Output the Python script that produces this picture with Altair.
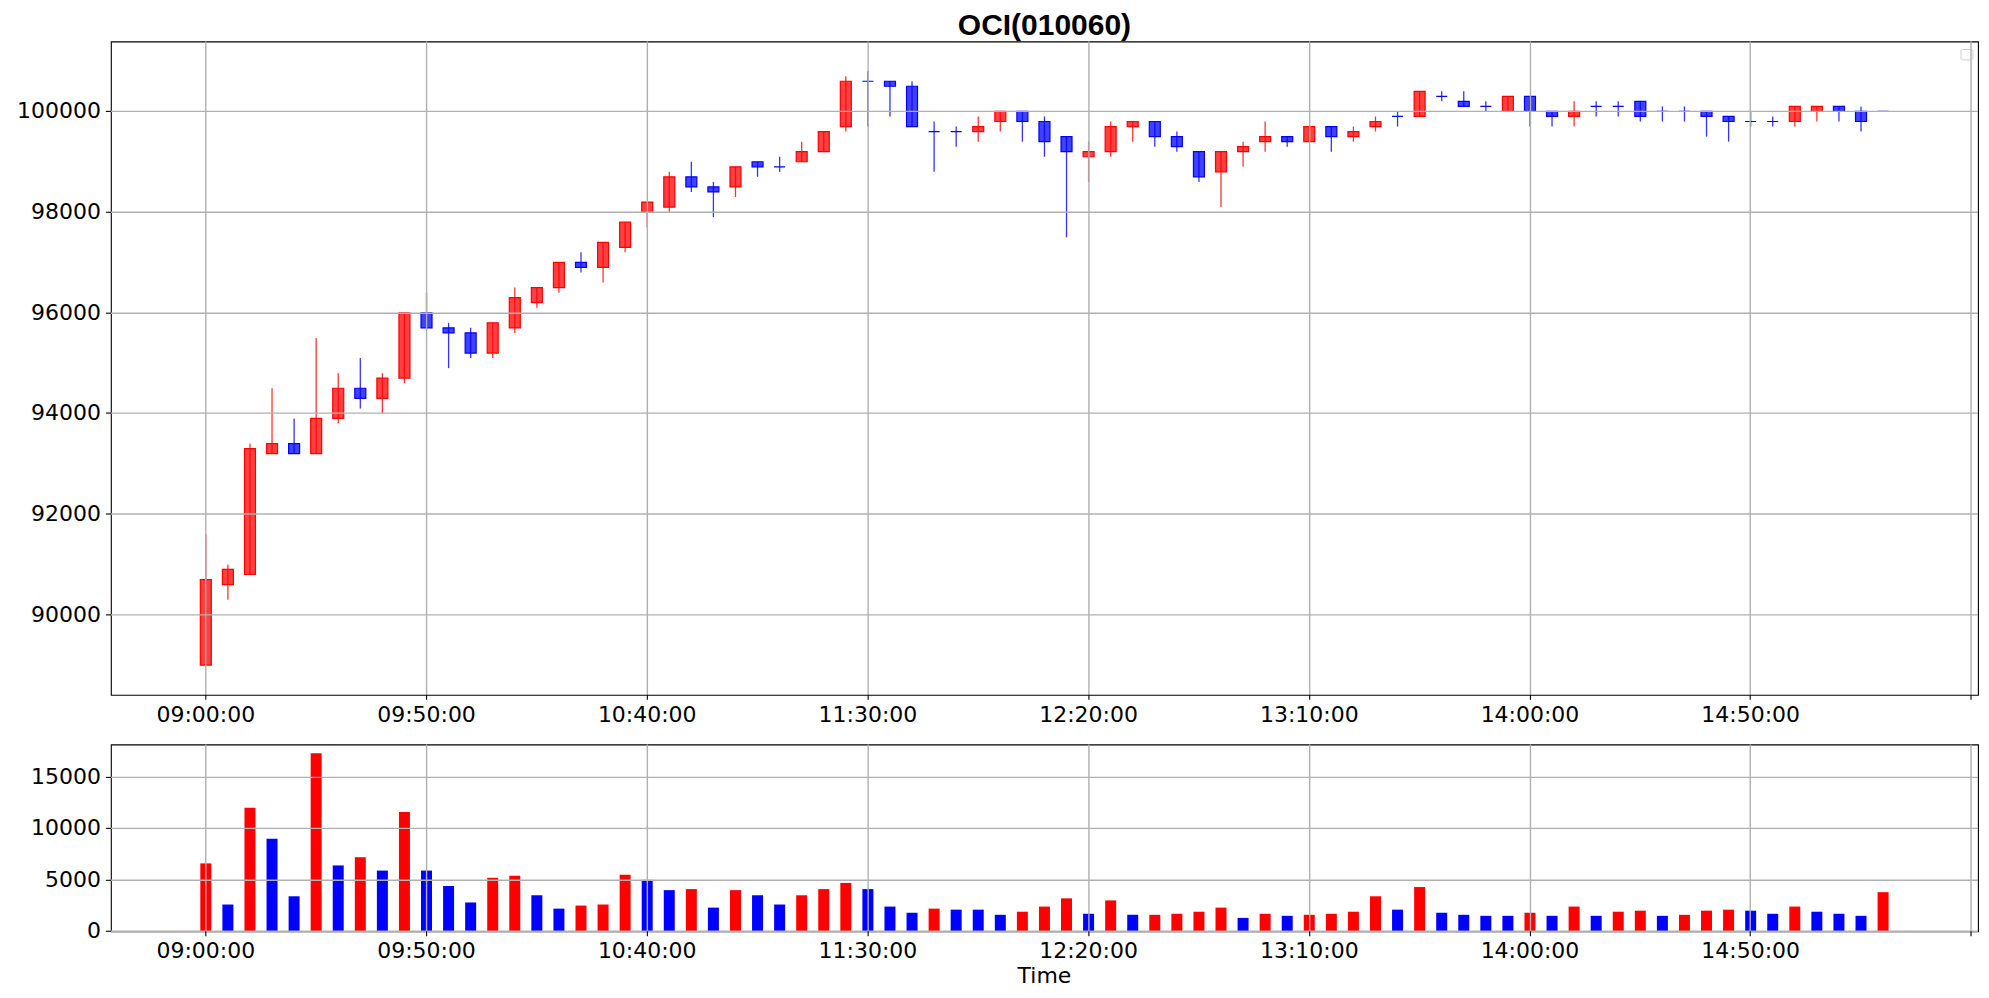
import altair as alt
import numpy as np
import pandas as pd


# 5 minute candles, 09:00 -> 15:20
opens = [89000, 90600, 90800, 93200, 93400, 93200, 93900, 94500, 94300, 94700,
         96000, 95700, 95600, 95200, 95700, 96200, 96500, 97000, 96900, 97300,
         98000, 98100, 98700, 98500, 98500, 99000, 98900, 99000, 99200, 99700,
         100600, 100600, 100500, 99600, 99600, 99600, 99800, 100000, 99800, 99500,
         99100, 99200, 99700, 99800, 99500, 99200, 98800, 99200, 99400, 99500,
         99400, 99700, 99500, 99700, 99900, 99900, 100300, 100200, 100100, 100000,
         100300, 100000, 99900, 100100, 100100, 100200, 100000, 100000, 100000, 99900,
         99800, 99800, 99800, 100000, 100100, 100000, 100000]
highs = [91600, 91000, 93400, 94500, 93900, 95500, 94800, 95100, 94800, 96000,
         96400, 95800, 95700, 95800, 96500, 96500, 97000, 97200, 97400, 97800,
         98200, 98800, 99000, 98600, 98900, 99000, 99100, 99400, 99600, 100700,
         100800, 100600, 100600, 99800, 99700, 99900, 100000, 100000, 99900, 99500,
         99400, 99800, 99800, 99800, 99600, 99200, 99200, 99400, 99800, 99500,
         99700, 99700, 99700, 99900, 100000, 100400, 100400, 100400, 100200, 100300,
         100300, 100000, 100200, 100200, 100200, 100200, 100100, 100100, 100000, 99900,
         100000, 99900, 100100, 100100, 100100, 100100, 100000]
lows = [89000, 90300, 90800, 93200, 93200, 93200, 93800, 94100, 94000, 94600,
        95700, 94900, 95100, 95100, 95600, 96100, 96400, 96800, 96600, 97200,
        97700, 98000, 98400, 97900, 98300, 98700, 98800, 99000, 99200, 99600,
        99700, 99900, 99700, 98800, 99300, 99400, 99600, 99400, 99100, 97500,
        98600, 99100, 99400, 99300, 99200, 98600, 98100, 98900, 99200, 99300,
        99400, 99200, 99400, 99600, 99700, 99900, 100200, 100100, 100000, 100000,
        99700, 99700, 99700, 99900, 99900, 99800, 99800, 99800, 99500, 99400,
        99700, 99700, 99700, 99800, 99800, 99600, 100000]
closes = [90700, 90900, 93300, 93400, 93200, 93900, 94500, 94300, 94700, 96000,
          95700, 95600, 95200, 95800, 96300, 96500, 97000, 96900, 97400, 97800,
          98200, 98700, 98500, 98400, 98900, 98900, 98900, 99200, 99600, 100600,
          100600, 100500, 99700, 99600, 99600, 99700, 100000, 99800, 99400, 99200,
          99200, 99700, 99800, 99500, 99300, 98700, 99200, 99300, 99500, 99400,
          99700, 99500, 99600, 99800, 99900, 100400, 100300, 100100, 100100, 100300,
          100000, 99900, 100000, 100100, 100100, 99900, 100000, 100000, 99900, 99800,
          99800, 99800, 100100, 100100, 100000, 99800, 100000]
volumes = [6600, 2600, 12000, 9000, 3400, 17300, 6400, 7200, 5900, 11600,
           5900, 4400, 2800, 5200, 5400, 3500, 2200, 2500, 2600, 5500,
           5000, 4000, 4100, 2300, 4000, 3500, 2600, 3500, 4100, 4700,
           4100, 2400, 1800, 2200, 2100, 2100, 1600, 1900, 2400, 3200,
           1700, 3000, 1600, 1600, 1700, 1900, 2300, 1300, 1700, 1500,
           1600, 1700, 1900, 3400, 2100, 4300, 1800, 1600, 1500, 1500,
           1800, 1500, 2400, 1500, 1900, 2000, 1500, 1600, 2000, 2100,
           2000, 1700, 2400, 1900, 1700, 1500, 3800]
# volume bar colours as drawn (not always the candle colour)
vol_dir = ['up', 'down', 'up', 'down', 'down', 'up', 'down', 'up', 'down', 'up',
           'down', 'down', 'down', 'up', 'up', 'down', 'down', 'up', 'up', 'up',
           'down', 'down', 'up', 'down', 'up', 'down', 'down', 'up', 'up', 'up',
           'down', 'down', 'down', 'up', 'down', 'down', 'down', 'up', 'up', 'up',
           'down', 'up', 'down', 'up', 'up', 'up', 'up', 'down', 'up', 'down',
           'up', 'up', 'up', 'up', 'down', 'up', 'down', 'down', 'down', 'down',
           'up', 'down', 'up', 'down', 'up', 'up', 'down', 'up', 'up', 'up',
           'down', 'down', 'up', 'down', 'down', 'down', 'up']
tick_labels = ['09:00:00', '09:50:00', '10:40:00', '11:30:00', '12:20:00',
               '13:10:00', '14:00:00', '14:50:00', '']
price_ticks = [90000, 92000, 94000, 96000, 98000, 100000]
volume_ticks = [0, 5000, 10000, 15000]

times = pd.date_range('09:00', periods=len(opens), freq='5min').strftime('%H:%M:%S')
df = pd.DataFrame({'idx': range(len(opens)), 'time': times, 'open': opens, 'high': highs,
                   'low': lows, 'close': closes, 'volume': volumes, 'vdir': vol_dir})
df['dir'] = np.where(df.close > df.open, 'up', 'down')

UP, DOWN = '#ff0000', '#0000ff'
dir_scale = alt.Scale(domain=['up', 'down'], range=[UP, DOWN])
xscale = alt.Scale(domain=[-4.075, 80.075], nice=False, zero=False)
label_expr = '[' + ','.join("'{}'".format(t) for t in tick_labels) + '][round(datum.value / 10)]'

# grid drawn above the marks, like the matplotlib original
axis_style = dict(labelFont='DejaVu Sans', labelFontSize=22, labelColor='black',
                  tickColor='black', tickSize=5, tickWidth=1.1, labelPadding=5,
                  domain=False, grid=True, gridColor='#b0b0b0', gridWidth=1.4,
                  zindex=1, translate=0)


def x_axis(title=None):
    if title:
        extra = dict(title=title, titleFont='DejaVu Sans', titleFontSize=22,
                     titleFontWeight='normal', titleColor='black', titlePadding=4)
    else:
        extra = dict(title=None)
    return alt.Axis(values=list(range(0, 81, 10)), labelExpr=label_expr,
                    labelFlush=False, labelOverlap=False, **axis_style, **extra)


W = 1869
base = alt.Chart(df).encode(x=alt.X('idx:Q', scale=xscale, axis=x_axis()))

yscale = alt.Scale(domain=[88410, 101390], nice=False, zero=False)
body = base.mark_bar(size=11, fillOpacity=0.75, strokeWidth=1.2).encode(
    y=alt.Y('open:Q', scale=yscale,
            axis=alt.Axis(values=price_ticks, format='d', title=None, **axis_style)),
    y2='close:Q',
    color=alt.Color('dir:N', scale=dir_scale, legend=None),
    stroke=alt.Stroke('dir:N', scale=dir_scale, legend=None),
)
wick = base.mark_rule(strokeWidth=1.3, opacity=0.8).encode(
    y='low:Q',
    y2='high:Q',
    color=alt.Color('dir:N', scale=dir_scale, legend=None),
)
# empty legend frame in the top right corner
legend_box = alt.Chart(pd.DataFrame({'a': [0]})).mark_rect(
    fill='white', stroke='#cccccc', strokeWidth=1, cornerRadius=2
).encode(x=alt.value(1852), x2=alt.value(1864), y=alt.value(8), y2=alt.value(18.5))

price = alt.layer(body, wick, legend_box).properties(
    width=W, height=654,
    title=alt.Title('OCI(010060)', font='Liberation Sans', fontSize=30, fontWeight='bold',
                    color='black', anchor='middle', offset=0),
)

volume = alt.Chart(df).mark_bar(size=11).encode(
    x=alt.X('idx:Q', scale=xscale, axis=x_axis('Time')),
    y=alt.Y('volume:Q', scale=alt.Scale(domain=[0, 18165], nice=False),
            axis=alt.Axis(values=volume_ticks, format='d', title=None, **axis_style)),
    color=alt.Color('vdir:N', scale=dir_scale, legend=None),
).properties(width=W, height=187)

chart = alt.vconcat(price, volume, spacing=49.7, bounds='flush').properties(
    padding={'left': 8, 'top': 2, 'right': 2, 'bottom': 0},
    background='white',
).configure_view(stroke='black', strokeWidth=1.1)

chart.save("out.html", embed_options={"renderer": "svg", "actions": False})
